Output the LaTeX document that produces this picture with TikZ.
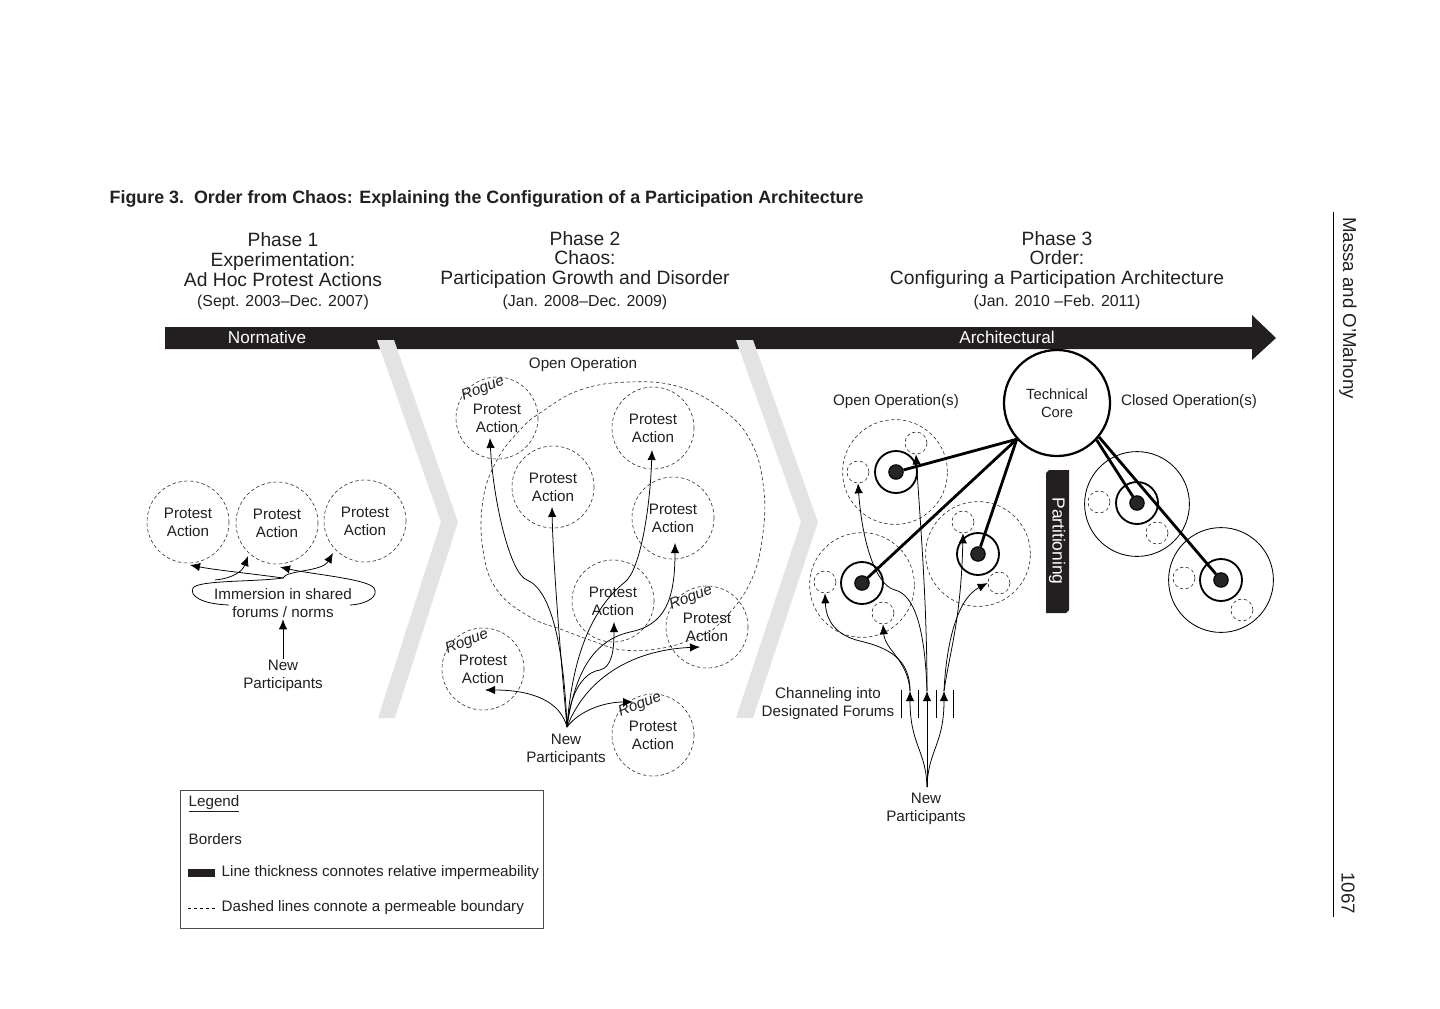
\documentclass[tikz,border=0pt]{standalone}
\usepackage{fontspec}
\setmainfont{Liberation Sans}
\usetikzlibrary{arrows.meta,calc}

\newcommand{\txtsm}{\fontsize{10.8pt}{12.8pt}\selectfont}
\newcommand{\txthd}{\fontsize{13.7pt}{14.2pt}\selectfont}
\newcommand{\txtdt}{\fontsize{11.3pt}{13pt}\selectfont}
\newcommand{\txtbar}{\fontsize{12.2pt}{14pt}\selectfont}
\definecolor{barclr}{HTML}{231F20}
\definecolor{chevclr}{HTML}{E3E3E3}

\begin{document}
\begin{tikzpicture}[x=0.025cm, y=-0.025cm, every node/.style={font=\txtsm, text=barclr, inner sep=1pt}, >={Latex[length=2.5mm, width=2.1mm]},
  perm/.style={draw=black!80, line width=0.45pt, dash pattern=on 2.4pt off 1.8pt},
  pa/.style={perm, circle, minimum size=2.05cm, align=center},
  sml/.style={perm, circle, minimum size=0.55cm},
  big/.style={circle, minimum size=2.62cm},
  ring/.style={draw, line width=1.3pt, circle, minimum size=1.05cm},
  dot/.style={draw, line width=0.8pt, fill=black!85, circle, minimum size=0.36cm},
  rogue/.style={font=\txtsm\itshape, rotate=22, inner sep=0pt},
  flow/.style={->, line width=0.55pt},
  tie/.style={line width=2pt}]
\useasboundingbox (0,0) rectangle (1440,1008);

% time axis and phase separators
\fill[barclr] (165,327) -- (1252,327) -- (1252,315) -- (1276,338) -- (1252,360) -- (1252,349) -- (165,349) -- cycle;
\fill[chevclr] (377,340) -- (394,340) -- (458,522) -- (395,718) -- (378,718) -- (441,522) -- cycle;
\fill[chevclr] (736,340) -- (753,340) -- (818,522) -- (753,718) -- (736,718) -- (801,522) -- cycle;
\node[font=\txtbar, text=white] (nrm) at (267,337) {Normative};
\node[font=\txtbar, text=white] (arch) at (1007,337) {Architectural};

% headings
\node[anchor=west, font=\fontsize{12.7pt}{14pt}\selectfont\bfseries] (ttl) at (108,199) {Figure 3.\ \ Order from Chaos: Explaining the Configuration of a Participation Architecture};
\node[font=\txthd, align=center] (ph1) at (283,260) {Phase 1\\Experimentation:\\Ad Hoc Protest Actions};
\node[font=\txtdt] (dt1) at (283,302) {(Sept. 2003--Dec. 2007)};
\node[font=\txthd, align=center] (ph2) at (585,260) {Phase 2\\Chaos:\\Participation Growth and Disorder};
\node[font=\txtdt] (dt2) at (585,302) {(Jan. 2008--Dec. 2009)};
\node[font=\txthd, align=center] (ph3) at (1057,260) {Phase 3\\Order:\\Configuring a Participation Architecture};
\node[font=\txtdt] (dt3) at (1057,302) {(Jan. 2010 --Feb. 2011)};

% phase 1
\node[pa] (pa11) at (188,522) {Protest\\Action};
\node[pa] (pa12) at (277,523) {Protest\\Action};
\node[pa] (pa13) at (365,521) {Protest\\Action};
\node[align=center] (imm) at (283,603) {Immersion in shared\\forums / norms};
\node[align=center] (np1) at (283,676) {New\\Participants};
\coordinate (cusp) at (283,578);
\draw[line width=0.55pt] (229,605) .. controls (202,604) and (189,596) .. (193,588) .. controls (198,580) and (255,582) .. (cusp);
\draw[flow] (350,605) .. controls (368,604) and (379,596) .. (374,588) .. controls (368,579) and (310,574) .. ($(pa12)+(3,44)$);
\draw[flow] (cusp) .. controls (255,574) and (215,570) .. ($(pa11)+(2,43)$);
\draw[flow] (cusp) .. controls (286,570) and (322,572) .. ($(pa13)+(-32,32)$);
\draw[flow] (215,580) .. controls (235,578) and (243,570) .. ($(pa12)+(-29,33)$);
\draw[flow] (np1) -- (imm);

% phase 2
\node (opl2) at (583,365) {Open Operation};
\draw[perm] plot[smooth cycle, tension=0.7] coordinates {(540,413) (580,390) (630,382) (680,387) (723,410) (750,440) (763,483) (763,533) (750,583) (720,623) (697,637) (663,648) (623,650) (590,640) (563,630) (530,617) (497,590) (483,550) (483,500) (497,460) (520,430)};
\node[pa] (rg1) at (497,418) {Protest\\Action};
\node[pa] (pa21) at (653,428) {Protest\\Action};
\node[pa] (pa22) at (553,487) {Protest\\Action};
\node[pa] (pa23) at (673,518) {Protest\\Action};
\node[pa] (pa24) at (613,601) {Protest\\Action};
\node[pa] (rg2) at (707,627) {Protest\\Action};
\node[pa] (rg3) at (483,669) {Protest\\Action};
\node[pa] (rg4) at (653,735) {Protest\\Action};
\node[rogue] (rw1) at ($(rg1)+(-14,-29)$) {Rogue};
\node[rogue] (rw2) at ($(rg2)+(-16,-29)$) {Rogue};
\node[rogue] (rw3) at ($(rg3)+(-16,-27)$) {Rogue};
\node[rogue] (rw4) at ($(rg4)+(-13,-30)$) {Rogue};
\node[align=center] (np2) at (566,750) {New\\Participants};
\coordinate (np2o) at (567,727);
\draw[flow] (np2o) .. controls (564,650) and (552,590) .. (527,580) .. controls (510,574) and (493,500) .. ($(rg1)+(-7,20)$);
\draw[flow] (np2o) .. controls (560,650) and (553,560) .. ($(pa22)+(-1,20)$);
\draw[flow] (np2o) .. controls (572,660) and (590,610) .. (625,582) .. controls (640,570) and (650,510) .. ($(pa21)+(-1,22)$);
\draw[flow] (np2o) .. controls (575,670) and (595,640) .. (630,632) .. controls (665,625) and (675,600) .. ($(pa23)+(2,25)$);
\draw[flow] (np2o) .. controls (570,690) and (585,672) .. (600,670) .. controls (612,667) and (614,650) .. ($(pa24)+(1,21)$);
\draw[flow] (np2o) .. controls (585,680) and (630,650) .. ($(rg2)+(-7,20)$);
\draw[flow] (np2o) .. controls (560,700) and (530,690) .. ($(rg3)+(2,21)$);
\draw[flow] (np2o) .. controls (580,710) and (605,702) .. ($(rg4)+(-20,-33)$);

% phase 3
\node (opl3) at (896,402) {Open Operation(s)};
\node (cll3) at (1189,402) {Closed Operation(s)};
\node[circle, draw, line width=1.6pt, minimum size=2.65cm, align=center, font=\fontsize{10.5pt}{12.8pt}\selectfont] (core) at (1057,403) {Technical\\Core};
\node[big, perm] (opa) at (895,472) {};
\node[big, perm] (opb) at (862,585) {};
\node[big, perm] (opc) at (978,554) {};
\node[big, draw, line width=0.6pt] (cld) at (1137,504) {};
\node[big, draw, line width=0.6pt] (cle) at (1221,580) {};
\node[sml] (a1) at (858,472) {};
\node[sml] (a2) at (916,443) {};
\node[sml] (b1) at (825,582) {};
\node[sml] (b2) at (883,613) {};
\node[sml] (c1) at (963,522) {};
\node[sml] (c2) at (999,583) {};
\node[sml] (d1) at (1099,502) {};
\node[sml] (d2) at (1157,533) {};
\node[sml] (e1) at (1184,578) {};
\node[sml] (e2) at (1242,610) {};
\node[ring] (ra) at (896,472) {};
\node[ring] (rb) at (862,583) {};
\node[ring] (rc) at (978,554) {};
\node[ring] (rd) at (1137,503) {};
\node[ring] (re) at (1221,580) {};
\node[dot] (da) at (896,472) {};
\node[dot] (db) at (862,583) {};
\node[dot] (dc) at (978,554) {};
\node[dot] (dd) at (1137,503) {};
\node[dot] (de) at (1221,580) {};
\draw[tie] (core.222) -- (da);
\draw[tie] (core.222) -- (db);
\draw[tie] (core.222) -- (dc);
\draw[tie] (core.-43) -- (dd);
\draw[tie] (core.-39) -- (de);
\fill[barclr] (1049,470) -- (1069,470) -- (1069,610) -- (1066,613) -- (1046,613) -- (1046,473) -- cycle;
\node[text=white, rotate=-90, font=\fontsize{12.4pt}{14pt}\selectfont] (part) at (1057,541) {Partitioning};

\node[align=center] (chn) at (828,704) {Channeling into\\Designated Forums};
\foreach \x in {901,918,936,953} \draw[line width=0.5pt] (\x,690) -- (\x,718);
\node[align=center] (np3) at (926,809) {New\\Participants};
\coordinate (np3o) at (927,787);
\coordinate (ch1) at (910,691);
\coordinate (ch2) at (927,691);
\coordinate (ch3) at (944,691);
\draw[flow] (np3o) .. controls (926,750) and (910,745) .. (ch1);
\draw[flow] (np3o) -- (ch2);
\draw[flow] (np3o) .. controls (928,750) and (944,745) .. (ch3);
\draw[flow] (ch1) .. controls (910,660) and (890,648) .. (860,641) .. controls (835,635) and (826,620) .. (b1.south);
\draw[flow] (ch1) .. controls (908,660) and (885,650) .. (b2.south);
\draw[flow] (ch2) .. controls (925,630) and (915,595) .. (895,590) .. controls (875,585) and (862,540) .. (a1.south);
\draw[flow] (ch2) .. controls (927,600) and (920,520) .. (a2.south);
\draw[flow] (ch3) .. controls (950,650) and (961,620) .. (c1.south);
\draw[flow] (ch3) .. controls (946,650) and (955,600) .. (c2.west);

% legend
\draw[line width=0.5pt, black!70] (180,790) rectangle (543,928);
\node[anchor=west] (lg) at (187,804) {\underline{Legend}};
\node[anchor=west] (lgb) at (187,839) {Borders};
\fill[barclr] (188,869) rectangle (215,877);
\node[anchor=west] (lgt) at (220,873) {Line thickness connotes relative impermeability};
\draw[dash pattern=on 2.2pt off 2pt, line width=0.5pt] (188,908) -- (215,908);
\node[anchor=west] (lgd) at (220,908) {Dashed lines connote a permeable boundary};

% running head
\draw[line width=0.5pt] (1333,212) -- (1333,917);
\node[rotate=-90, font=\fontsize{13.3pt}{15pt}\selectfont] (hd) at (1348,308) {Massa and O'Mahony};
\node[rotate=-90, font=\fontsize{13.3pt}{15pt}\selectfont] (pg) at (1348,893) {1067};
\end{tikzpicture}
\end{document}
